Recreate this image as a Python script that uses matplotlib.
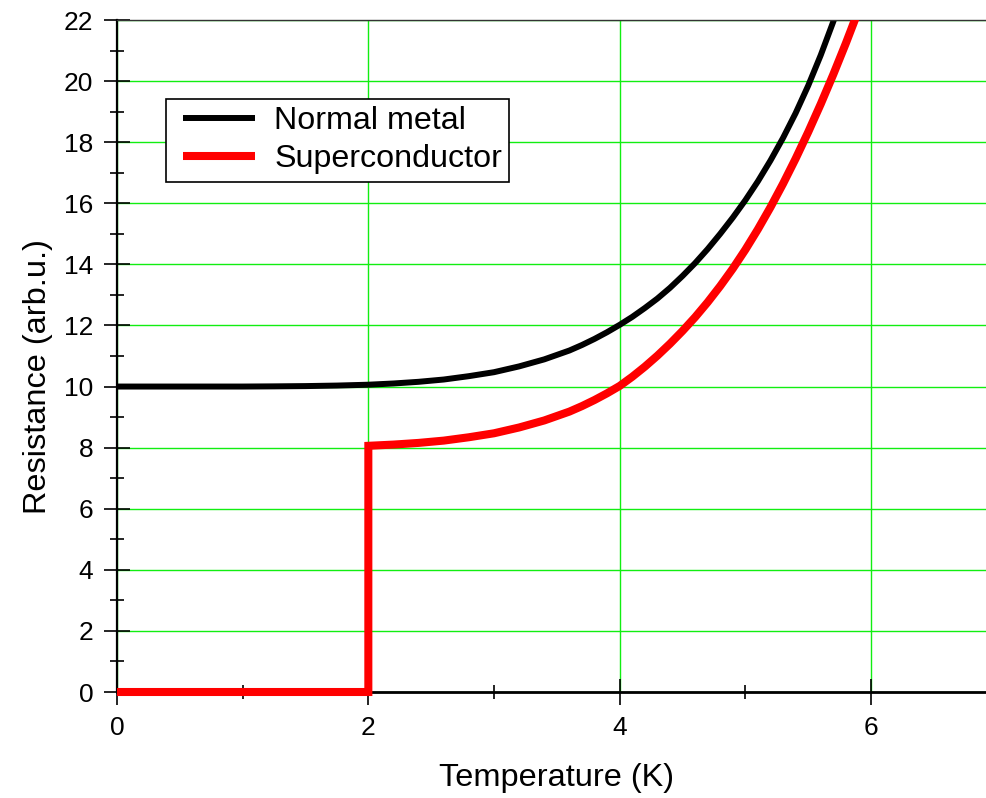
import matplotlib
matplotlib.use("Agg")
import matplotlib.pyplot as plt
from matplotlib.ticker import MultipleLocator
from matplotlib.transforms import Bbox, TransformedBbox
from matplotlib.legend_handler import HandlerLine2D

plt.rcParams['font.family'] = ['Liberation Sans', 'DejaVu Sans']

# values
temp_normal = [0, 0.5, 1.0, 1.25, 1.5, 1.75, 2.0, 2.2, 2.4, 2.6, 2.8, 3.0, 3.2, 3.4, 3.6,
               3.7, 3.8, 3.9, 4.0, 4.1, 4.2, 4.3, 4.4, 4.5, 4.6, 4.7, 4.8, 4.9, 5.0,
               5.1, 5.2, 5.3, 5.4, 5.5, 5.6, 5.7, 5.8]
res_normal = [10, 10, 10.0, 10.006, 10.015, 10.032, 10.06, 10.10, 10.155, 10.23, 10.34,
              10.47, 10.66, 10.89, 11.18, 11.36, 11.56, 11.78, 12.02, 12.28, 12.57,
              12.88, 13.23, 13.62, 14.04, 14.5, 15.0, 15.53, 16.1, 16.72, 17.4, 18.14,
              18.95, 19.85, 20.85, 21.95, 23.1]

temp_super = [0, 2.0, 2.0, 2.2, 2.4, 2.6, 2.8, 3.0, 3.2, 3.4, 3.6, 3.7, 3.8, 3.9,
              4.0, 4.1, 4.2, 4.3, 4.4, 4.5, 4.6, 4.7, 4.8, 4.9, 5.0, 5.1, 5.2, 5.3,
              5.4, 5.5, 5.6, 5.7, 5.8, 5.9, 6.0]
res_super = [0, 0, 8.06, 8.10, 8.155, 8.23, 8.34, 8.47, 8.66, 8.89, 9.18, 9.36, 9.56,
             9.78, 10.02, 10.32, 10.65, 11.01, 11.40, 11.82, 12.27, 12.76, 13.29, 13.86,
             14.48, 15.15, 15.87, 16.64, 17.46, 18.33, 19.25, 20.22, 21.24, 22.31, 23.43]

fig = plt.figure(figsize=(9.87, 7.98), dpi=100)
ax = fig.add_axes([117 / 987, 106 / 798, 870 / 987, 672 / 798])

ax.plot(temp_normal, res_normal, color='black', lw=4.3, label='Normal metal',
        solid_capstyle='butt', zorder=3)
red, = ax.plot(temp_super, res_super, color='#ff0000', lw=5.8, label='Superconductor',
               solid_capstyle='butt', solid_joinstyle='miter', zorder=6)
# let the thick red line at R=0 sit over the bottom axis, as in the original
red.set_clip_box(TransformedBbox(Bbox([[0, -0.05], [1, 1]]), ax.transAxes))

ax.set_xlim(0, 870 / 125.67)
ax.set_ylim(0, 22)
ax.xaxis.set_major_locator(MultipleLocator(2))
ax.xaxis.set_minor_locator(MultipleLocator(1))
ax.yaxis.set_major_locator(MultipleLocator(2))
ax.yaxis.set_minor_locator(MultipleLocator(1))

ax.grid(True, which='major', color='#11ee11', lw=1, zorder=0)
ax.set_axisbelow(True)

ax.tick_params(which='major', direction='inout', length=19, width=1.2,
               labelsize=19, pad=7.5)
ax.tick_params(which='minor', direction='inout', length=9.5, width=1.2)
ax.tick_params(top=False, right=False)

ax.spines['right'].set_visible(False)
ax.spines['top'].set_linewidth(1)
ax.spines['top'].set_color('#333333')
ax.spines['left'].set_linewidth(1.6)
ax.spines['bottom'].set_linewidth(2)
for s in ax.spines.values():
    s.set_zorder(5)

ax.set_xlabel('Temperature (K)', fontsize=23.4)
ax.set_ylabel('Resistance (arb.u.)', fontsize=23.4)
ax.xaxis.set_label_coords(0.505, -0.106)
ax.yaxis.set_label_coords(-0.073, 0.469)

leg = ax.legend(loc='upper left', bbox_to_anchor=(0.0563, 0.8824), fontsize=23.2,
                frameon=True, fancybox=False, edgecolor='black', framealpha=1,
                handlelength=2.55, handletextpad=0.59, borderpad=0.22,
                labelspacing=0.26, borderaxespad=0,
                handler_map={plt.Line2D: HandlerLine2D(xpad=0.3)})
leg.get_frame().set_linewidth(1.2)
leg.set_zorder(7)

fig.savefig('out.png', dpi=100)
